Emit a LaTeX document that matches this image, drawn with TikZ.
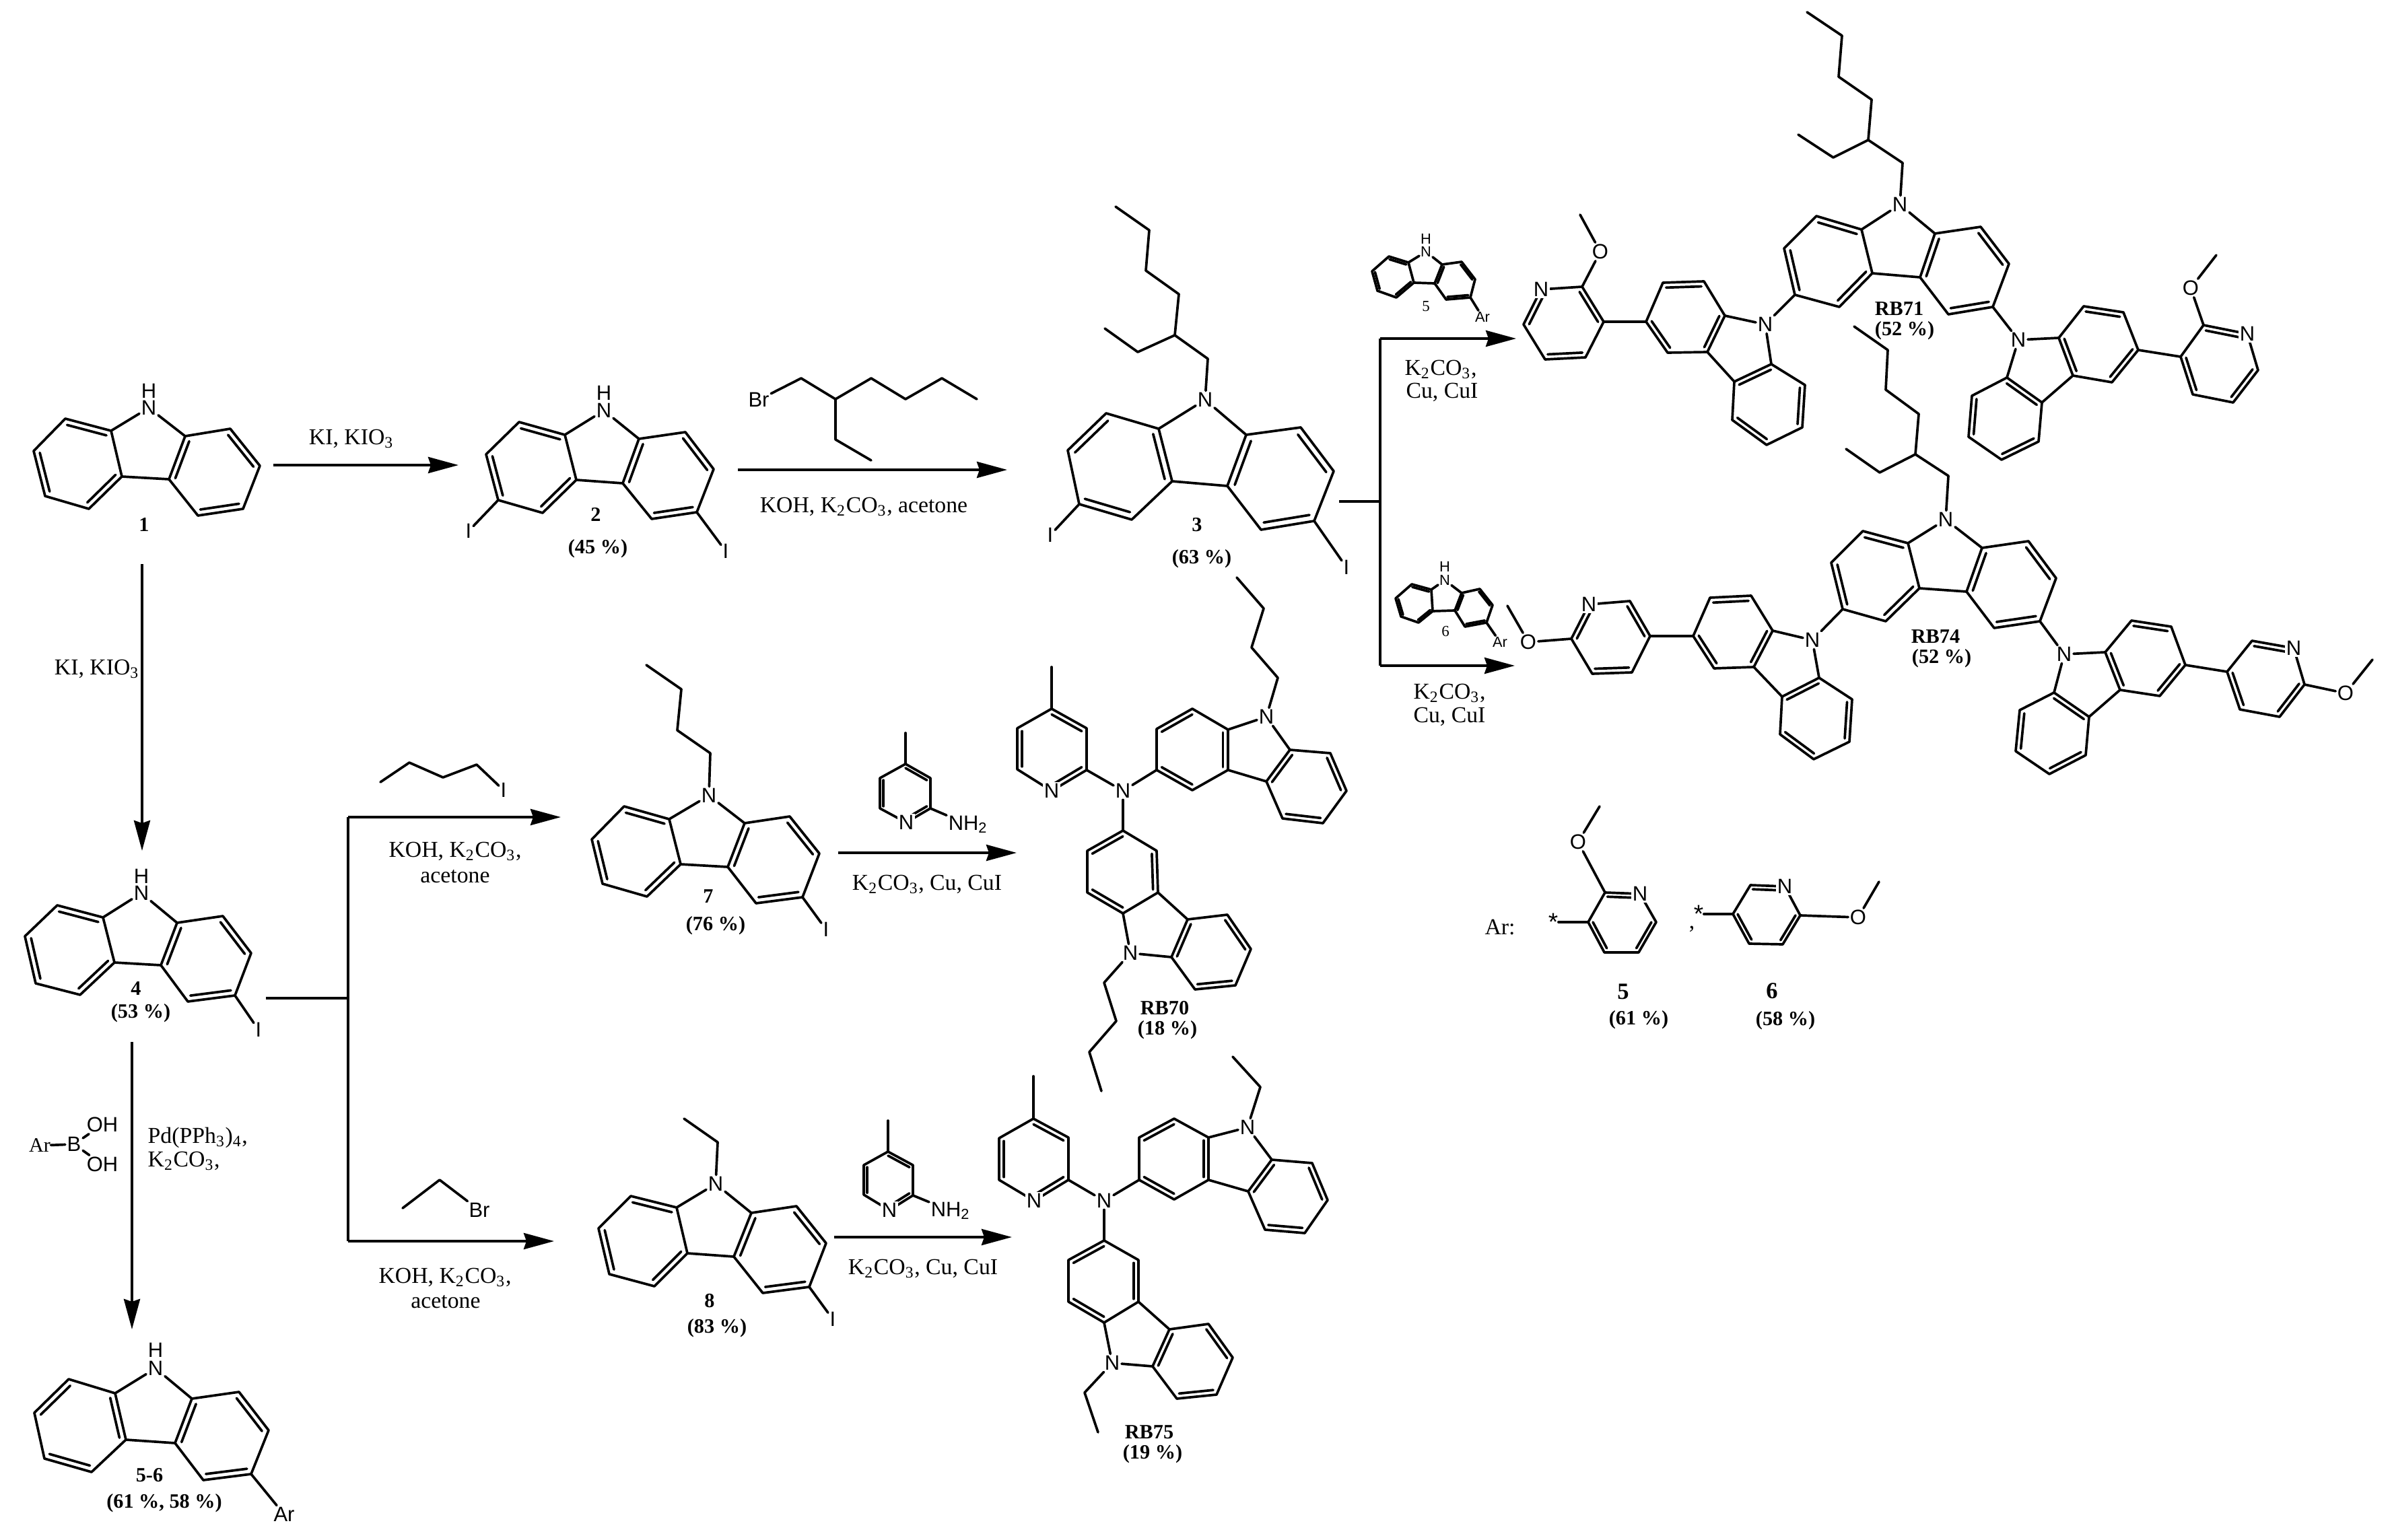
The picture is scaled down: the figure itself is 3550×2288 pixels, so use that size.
\documentclass[tikz,border=0pt]{standalone}
\usepackage{fontspec}
\setmainfont{Liberation Serif}
\newfontfamily\atomfont{Liberation Sans}
\usetikzlibrary{calc,arrows.meta}
\tikzset{
  bond/.style={line width=1.05pt,line join=round,line cap=round,black},
  rxnline/.style={line width=1.1pt,black},
  rxn/.style={rxnline,-{Stealth[length=.45cm,width=.24cm,inset=.04cm]}},
  atom/.style={font=\atomfont\fontsize{8.8pt}{10pt}\selectfont,inner sep=.6pt},
  satom/.style={font=\atomfont\fontsize{6.2pt}{7pt}\selectfont,inner sep=.4pt},
  patom/.style={atom,fill=white},
  txt/.style={font=\fontsize{9.6pt}{11pt}\selectfont,inner sep=0pt},
  lbl/.style={font=\bfseries\fontsize{8.6pt}{10pt}\selectfont,inner sep=0pt},
  big/.style={font=\bfseries\fontsize{9.8pt}{11pt}\selectfont,inner sep=0pt},
  yld/.style={font=\fontsize{8.6pt}{10pt}\selectfont,inner sep=0pt},
  star/.style={font=\atomfont\fontsize{10.5pt}{11pt}\selectfont,inner sep=0pt},
  stxt/.style={font=\fontsize{6.5pt}{7pt}\selectfont,inner sep=0pt},
}
% six-membered ring: name, six points, list of edges that are double
\newcommand\hx[8]{%
  \coordinate (#1-1) at #2; \coordinate (#1-2) at #3; \coordinate (#1-3) at #4;
  \coordinate (#1-4) at #5; \coordinate (#1-5) at #6; \coordinate (#1-6) at #7;
  \coordinate (#1-c) at ($0.16667*(#1-1)+0.16667*(#1-2)+0.16667*(#1-3)+0.16667*(#1-4)+0.16667*(#1-5)+0.16667*(#1-6)$);
  \draw[bond] (#1-1)--(#1-2)--(#1-3)--(#1-4)--(#1-5)--(#1-6)--cycle;
  \foreach \i in {#8} {%
    \pgfmathtruncatemacro\j{mod(\i,6)+1}%
    \draw[bond] ($(#1-c)!.86!(#1-\i)$)--($(#1-c)!.86!(#1-\j)$);
  }%
}
% pyrrole part of a carbazole: left ring, right ring, name of N, position
\newcommand\cz[5][atom]{%
  \node[#1] (#4) at #5 {N};
  \draw[bond] (#2-1)--(#4)--(#3-1);
  \draw[bond] (#2-2)--(#3-2);
}
\newcommand\rxnarrow[3]{%
  \coordinate (#1s) at #2; \coordinate (#1e) at #3;
  \draw[rxn] (#1s)--(#1e);
}
\begin{document}
\begin{tikzpicture}[x=0.01cm,y=-0.01cm]
\useasboundingbox (0,0) rectangle (3550,2288);

% ---------- compound 1
\hx{oneL}{(165,640)}{(181,708)}{(132,756)}{(67,737)}{(50,670)}{(97,622)}{2,4,6}
\hx{oneR}{(275,648)}{(251,712)}{(294,766)}{(361,756)}{(386,692)}{(342,637)}{1,3,5}
\cz{oneL}{oneR}{oneN}{(221,606)}
\node[atom] (oneH) at (221,581) {H};
\node[lbl] (oneLb) at (214,780) {1};

% ---------- compound 2
\hx{twoL}{(839,646)}{(856,713)}{(806,762)}{(740,743)}{(722,675)}{(771,627)}{2,4,6}
\hx{twoR}{(949,652)}{(925,718)}{(968,771)}{(1035,761)}{(1060,697)}{(1018,642)}{1,3,5}
\cz{twoL}{twoR}{twoN}{(897,610)}
\node[atom] (twoH) at (897,584) {H};
\node[atom] (twoIa) at (696,789) {I};
\node[atom] (twoIb) at (1078,819) {I};
\draw[bond] (twoL-4)--(twoIa);
\draw[bond] (twoR-4)--(twoIb);
\node[lbl] (twoLb) at (885,764) {2};
\node[lbl] (twoY) at (888,815) {(45 \%)};

% ---------- 2-ethylhexyl bromide
\node[atom] (brA) at (1127,594) {Br};
\draw[bond] (brA)--(1190,562)--(1241,593)--(1294,562)--(1345,593)--(1399,562)--(1451,593);
\draw[bond] (1241,593)--(1241,653)--(1294,684);

% ---------- compound 3
\hx{thrL}{(1721,637)}{(1741,715)}{(1681,772)}{(1603,749)}{(1586,669)}{(1643,614)}{1,3,5}
\hx{thrR}{(1851,646)}{(1823,722)}{(1873,787)}{(1952,774)}{(1981,700)}{(1932,635)}{1,3,5}
\cz{thrL}{thrR}{thrN}{(1790,594)}
\draw[bond] (thrN)--(1794,533)--(1745,498)--(1690,523)--(1641,488);
\draw[bond] (1745,498)--(1751,437)--(1702,402)--(1707,342)--(1657,307);
\node[atom] (thrIa) at (1560,795) {I};
\node[atom] (thrIb) at (2000,843) {I};
\draw[bond] (thrL-4)--(thrIa);
\draw[bond] (thrR-4)--(thrIb);
\node[lbl] (thrLb) at (1778,780) {3};
\node[lbl] (thrY) at (1785,830) {(63 \%)};

% ---------- compound 4
\hx{fouL}{(153,1363)}{(170,1430)}{(119,1478)}{(53,1461)}{(37,1391)}{(85,1345)}{2,4,6}
\hx{fouR}{(263,1371)}{(239,1434)}{(279,1488)}{(349,1479)}{(373,1416)}{(331,1361)}{1,3,5}
\cz{fouL}{fouR}{fouN}{(210,1327)}
\node[atom] (fouH) at (210,1302) {H};
\node[atom] (fouI) at (384,1530) {I};
\draw[bond] (fouR-4)--(fouI);
\node[lbl] (fouLb) at (202,1469) {4};
\node[lbl] (fouY) at (209,1505) {(53 \%)};

% ---------- compound 5-6
\hx{fsL}{(171,2070)}{(187,2139)}{(136,2187)}{(66,2167)}{(51,2099)}{(102,2049)}{1,3,5}
\hx{fsR}{(285,2078)}{(260,2144)}{(302,2199)}{(373,2190)}{(399,2125)}{(355,2068)}{1,3,5}
\cz{fsL}{fsR}{fsN}{(231,2033)}
\node[atom] (fsH) at (231,2006) {H};
\node[atom] (fsAr) at (422,2250) {Ar};
\draw[bond] (fsR-4)--(fsAr);
\node[lbl] (fsLb) at (222,2192) {5-6};
\node[lbl] (fsY) at (244,2233) {(61 \%, 58 \%)};

% ---------- boronic acid
\node[yld] (baAr) at (59,1702) {Ar};
\node[atom] (baB) at (110,1700) {B};
\node[atom] (baOa) at (152,1671) {OH};
\node[atom] (baOb) at (152,1730) {OH};
\draw[bond] (baAr)--(baB);
\draw[bond] (baB)--(baOa);
\draw[bond] (baB)--(baOb);

% ---------- compound 7
\hx{svnL}{(994,1217)}{(1011,1284)}{(961,1332)}{(895,1313)}{(879,1247)}{(927,1198)}{2,4,6}
\hx{svnR}{(1106,1223)}{(1081,1288)}{(1123,1342)}{(1192,1333)}{(1217,1268)}{(1173,1213)}{1,3,5}
\cz{svnL}{svnR}{svnN}{(1053,1182)}
\draw[bond] (svnN)--(1055,1119)--(1006,1085)--(1012,1024)--(960,988);
\node[atom] (svnI) at (1227,1381) {I};
\draw[bond] (svnR-4)--(svnI);
\node[lbl] (svnLb) at (1052,1332) {7};
\node[lbl] (svnY) at (1063,1375) {(76 \%)};

% ---------- compound 8
\hx{eigL}{(1005,1794)}{(1021,1862)}{(972,1911)}{(905,1893)}{(889,1825)}{(937,1777)}{2,4,6}
\hx{eigR}{(1116,1802)}{(1090,1867)}{(1133,1921)}{(1202,1912)}{(1227,1847)}{(1183,1792)}{1,3,5}
\cz{eigL}{eigR}{eigN}{(1063,1759)}
\draw[bond] (eigN)--(1066,1697)--(1016,1662);
\node[atom] (eigI) at (1237,1960) {I};
\draw[bond] (eigR-4)--(eigI);
\node[lbl] (eigLb) at (1054,1933) {8};
\node[lbl] (eigY) at (1065,1973) {(83 \%)};

% ---------- butyl iodide, ethyl bromide
\node[atom] (buI) at (748,1174) {I};
\draw[bond] (565,1162)--(608,1133)--(658,1155)--(708,1136)--(buI);
\node[atom] (etBr) at (712,1798) {Br};
\draw[bond] (598,1795)--(653,1753)--(etBr);

% ---------- aminopicoline reagents
\hx{qa}{(1382,1201)}{(1346,1222)}{(1307,1201)}{(1307,1156)}{(1345,1135)}{(1382,1156)}{1,3,5}
\node[patom] (qaN) at (qa-2) {N};
\node[atom] (qaNH) at (1438,1225) {NH\textsubscript{2}};
\draw[bond] (qa-1)--(qaNH);
\draw[bond] (qa-5)--(1345,1089);
\hx{qb}{(1356,1776)}{(1321,1798)}{(1283,1775)}{(1283,1731)}{(1319,1711)}{(1356,1731)}{1,3,5}
\node[patom] (qbN) at (qb-2) {N};
\node[atom] (qbNH) at (1412,1799) {NH\textsubscript{2}};
\draw[bond] (qb-1)--(qbNH);
\draw[bond] (qb-5)--(1319,1665);

% ---------- RB70
\hx{sevP}{(1614,1144)}{(1562,1175)}{(1511,1143)}{(1511,1082)}{(1562,1053)}{(1614,1082)}{1,3,5}
\node[patom] (sevPN) at (sevP-2) {N};
\draw[bond] (sevP-5)--(1562,991);
\node[atom] (sevN) at (1668,1175) {N};
\hx{sevAL}{(1824,1084)}{(1824,1144)}{(1771,1174)}{(1718,1144)}{(1718,1083)}{(1771,1053)}{1,3,5}
\hx{sevAR}{(1916,1114)}{(1881,1161)}{(1905,1216)}{(1965,1223)}{(2000,1175)}{(1976,1119)}{1,3,5}
\cz{sevAL}{sevAR}{sevAN}{(1881,1065)}
\draw[bond] (sevAN)--(1898,1007)--(1859,962)--(1877,904)--(1837,858);
\hx{sevBL}{(1668,1357)}{(1720,1326)}{(1718,1264)}{(1668,1234)}{(1615,1264)}{(1615,1326)}{2,4,6}
\hx{sevBR}{(1740,1422)}{(1764,1366)}{(1823,1359)}{(1858,1410)}{(1835,1464)}{(1775,1470)}{1,3,5}
\cz{sevBL}{sevBR}{sevBN}{(1679,1416)}
\draw[bond] (sevBN)--(1640,1460)--(1658,1517)--(1618,1563)--(1636,1621);
\draw[bond] (sevP-1)--(sevN)--(sevAL-4);
\draw[bond] (sevN)--(sevBL-4);
\node[lbl] (sevLb) at (1730,1498) {RB70};
\node[lbl] (sevY) at (1734,1530) {(18 \%)};

% ---------- RB75
\hx{fivP}{(1587,1753)}{(1536,1784)}{(1484,1753)}{(1484,1691)}{(1535,1662)}{(1587,1690)}{1,3,5}
\node[patom] (fivPN) at (fivP-2) {N};
\draw[bond] (fivP-5)--(1535,1599);
\node[atom] (fivN) at (1640,1784) {N};
\hx{fivAL}{(1795,1690)}{(1795,1753)}{(1744,1782)}{(1692,1753)}{(1692,1690)}{(1744,1662)}{1,3,5}
\hx{fivAR}{(1889,1723)}{(1854,1770)}{(1879,1827)}{(1938,1832)}{(1972,1783)}{(1949,1728)}{1,3,5}
\cz{fivAL}{fivAR}{fivAN}{(1853,1675)}
\draw[bond] (fivAN)--(1872,1615)--(1831,1570);
\hx{fivBL}{(1640,1965)}{(1691,1934)}{(1691,1872)}{(1640,1843)}{(1587,1872)}{(1587,1934)}{2,4,6}
\hx{fivBR}{(1712,2030)}{(1737,1975)}{(1795,1967)}{(1831,2017)}{(1807,2072)}{(1748,2078)}{1,3,5}
\cz{fivBL}{fivBR}{fivBN}{(1652,2025)}
\draw[bond] (fivBN)--(1611,2069)--(1631,2128);
\draw[bond] (fivP-1)--(fivN)--(fivAL-4);
\draw[bond] (fivN)--(fivBL-4);
\node[lbl] (fivLb) at (1707,2128) {RB75};
\node[lbl] (fivY) at (1712,2160) {(19 \%)};

% ---------- small carbazole 5
\hx{sfL}{(2092,390)}{(2100,420)}{(2074,442)}{(2046,432)}{(2038,403)}{(2063,381)}{2,4,6}
\hx{sfR}{(2142,393)}{(2131,421)}{(2148,445)}{(2184,442)}{(2191,415)}{(2171,389)}{1,3,5}
\cz[satom]{sfL}{sfR}{sfN}{(2118,374)}
\node[satom] (sfH) at (2118,355) {H};
\node[satom] (sfAr) at (2202,471) {Ar};
\draw[bond] (sfR-4)--(sfAr);
\node[stxt] (sfLb) at (2118,455) {5};

% ---------- small carbazole 6
\hx{ssL}{(2126,876)}{(2128,908)}{(2107,925)}{(2081,916)}{(2073,889)}{(2097,868)}{2,4,6}
\hx{ssR}{(2171,881)}{(2161,907)}{(2176,931)}{(2208,925)}{(2217,899)}{(2198,875)}{1,3,5}
\cz[satom]{ssL}{ssR}{ssN}{(2146,862)}
\node[satom] (ssH) at (2146,842) {H};
\node[satom] (ssAr) at (2228,954) {Ar};
\draw[bond] (ssR-4)--(ssAr);
\node[stxt] (ssLb) at (2147,938) {6};

% ---------- RB71
\hx{oaL}{(2765,341)}{(2781,406)}{(2732,456)}{(2666,438)}{(2650,369)}{(2698,321)}{2,4,6}
\hx{oaR}{(2874,347)}{(2852,412)}{(2894,467)}{(2960,456)}{(2984,392)}{(2942,337)}{1,3,5}
\cz{oaL}{oaR}{oaN}{(2822,304)}
\draw[bond] (oaN)--(2826,242)--(2775,208)--(2723,234)--(2671,200);
\draw[bond] (2775,208)--(2780,148)--(2731,114)--(2736,53)--(2684,18);
\hx{obL}{(2562,469)}{(2536,523)}{(2477,524)}{(2445,478)}{(2470,420)}{(2531,418)}{1,3,5}
\hx{obR}{(2631,541)}{(2576,567)}{(2573,624)}{(2624,661)}{(2677,635)}{(2681,572)}{1,3,5}
\cz{obL}{obR}{obN}{(2622,482)}
\draw[bond] (oaL-4)--(obN);
\hx{ocP}{(2382,478)}{(2350,426)}{(2289,430)}{(2263,482)}{(2295,534)}{(2355,531)}{1,3,5}
\node[patom] (ocPN) at (ocP-3) {N};
\draw[bond] (obL-4)--(ocP-1);
\node[atom] (ocO) at (2377,374) {O};
\draw[bond] (ocP-2)--(ocO)--(2347,319);
\hx{odL}{(3058,502)}{(3079,558)}{(3137,568)}{(3176,520)}{(3154,464)}{(3095,455)}{1,3,5}
\hx{odR}{(2981,561)}{(3033,598)}{(3028,656)}{(2973,683)}{(2924,649)}{(2929,588)}{1,3,5}
\cz{odL}{odR}{odN}{(2998,505)}
\draw[bond] (oaR-4)--(odN);
\hx{oeP}{(3239,530)}{(3273,483)}{(3338,496)}{(3354,550)}{(3317,598)}{(3257,586)}{2,4,6}
\node[patom] (oePN) at (oeP-3) {N};
\draw[bond] (odL-4)--(oeP-1);
\node[atom] (oeO) at (3254,428) {O};
\draw[bond] (oeP-2)--(oeO)--(3292,379);
\node[lbl] (oaLb) at (2821,459) {RB71};
\node[lbl] (oaY) at (2829,491) {(52 \%)};

% ---------- RB74
\hx{taL}{(2834,807)}{(2851,874)}{(2801,923)}{(2737,905)}{(2720,836)}{(2767,789)}{2,4,6}
\hx{taR}{(2944,814)}{(2921,879)}{(2962,933)}{(3030,923)}{(3054,859)}{(3013,804)}{1,3,5}
\cz{taL}{taR}{taN}{(2890,772)}
\draw[bond] (taN)--(2894,707)--(2845,675)--(2792,702)--(2742,667);
\draw[bond] (2845,675)--(2850,615)--(2801,579)--(2804,520)--(2754,485);
\hx{tbL}{(2633,937)}{(2605,991)}{(2546,993)}{(2515,945)}{(2540,888)}{(2601,885)}{1,3,5}
\hx{tbR}{(2702,1007)}{(2647,1035)}{(2644,1091)}{(2694,1128)}{(2747,1102)}{(2751,1039)}{1,3,5}
\cz{tbL}{tbR}{tbN}{(2692,951)}
\draw[bond] (taL-4)--(tbN);
\hx{tcP}{(2451,945)}{(2421,893)}{(2360,898)}{(2334,949)}{(2365,1001)}{(2424,999)}{1,3,5}
\node[patom] (tcPN) at (tcP-3) {N};
\draw[bond] (tbL-4)--(tcP-1);
\node[atom] (tcO) at (2270,954) {O};
\draw[bond] (tcP-4)--(tcO)--(2239,900);
\hx{tdL}{(3127,969)}{(3149,1025)}{(3208,1034)}{(3246,988)}{(3225,931)}{(3166,922)}{1,3,5}
\hx{tdR}{(3051,1029)}{(3103,1065)}{(3098,1122)}{(3044,1150)}{(2994,1116)}{(3000,1055)}{1,3,5}
\cz{tdL}{tdR}{tdN}{(3066,972)}
\draw[bond] (taR-4)--(tdN);
\hx{teP}{(3308,998)}{(3345,952)}{(3407,963)}{(3423,1017)}{(3386,1065)}{(3327,1054)}{2,4,6}
\node[patom] (tePN) at (teP-3) {N};
\draw[bond] (tdL-4)--(teP-1);
\node[atom] (teO) at (3484,1030) {O};
\draw[bond] (teP-4)--(teO)--(3524,980);
\node[lbl] (taLb) at (2875,946) {RB74};
\node[lbl] (taY) at (2884,978) {(52 \%)};

% ---------- Ar: definitions
\node[txt] (arT) at (2228,1378) {Ar:};
\hx{raP}{(2359,1370)}{(2384,1326)}{(2436,1328)}{(2460,1370)}{(2434,1415)}{(2383,1415)}{2,4,6}
\node[patom] (raN) at (raP-3) {N};
\node[star] (raS) at (2307,1370) {*};
\draw[bond] (raS)--(raP-1);
\node[atom] (raO) at (2344,1251) {O};
\draw[bond] (raP-2)--(raO)--(2376,1198);
\node[txt] (comma) at (2513,1380) {,};
\hx{rbP}{(2574,1358)}{(2600,1315)}{(2651,1317)}{(2674,1360)}{(2648,1403)}{(2598,1402)}{2,4,6}
\node[patom] (rbN) at (rbP-3) {N};
\node[star] (rbS) at (2523,1358) {*};
\draw[bond] (rbS)--(rbP-1);
\node[atom] (rbO) at (2760,1363) {O};
\draw[bond] (rbP-4)--(rbO)--(2791,1310);
\node[big] (fiveLb) at (2411,1473) {5};
\node[big] (sixLb) at (2632,1472) {6};
\node[lbl] (fiveY) at (2434,1515) {(61 \%)};
\node[lbl] (sixY) at (2652,1516) {(58 \%)};

% ---------- arrows and reagents
\rxnarrow{aa}{(406,691)}{(681,691)}
\node[txt] (aaT) at (522,652) {KI, KIO\textsubscript{3}};
\rxnarrow{ab}{(211,838)}{(211,1264)}
\node[txt] (abT) at (144,994) {KI, KIO\textsubscript{3}};
\rxnarrow{ac}{(1096,698)}{(1496,698)}
\node[txt] (acT) at (1283,753) {KOH, K\textsubscript{2}CO\textsubscript{3}, acetone};
\rxnarrow{ad}{(196,1548)}{(196,1975)}
\node[txt,anchor=west] (adT1) at (219,1690) {Pd(PPh\textsubscript{3})\textsubscript{4},};
\node[txt,anchor=west] (adT2) at (219,1725) {K\textsubscript{2}CO\textsubscript{3},};

\coordinate (br4a) at (395,1483); \coordinate (br4b) at (517,1483);
\coordinate (br4t) at (517,1214); \coordinate (br4u) at (517,1844);
\draw[rxnline] (br4a)--(br4b);
\draw[rxnline] (br4t)--(br4u);
\rxnarrow{ae}{(br4t)}{(833,1214)}
\rxnarrow{af}{(br4u)}{(823,1844)}
\node[txt] (aeT1) at (676,1265) {KOH, K\textsubscript{2}CO\textsubscript{3},};
\node[txt] (aeT2) at (676,1302) {acetone};
\node[txt] (afT1) at (661,1898) {KOH, K\textsubscript{2}CO\textsubscript{3},};
\node[txt] (afT2) at (662,1934) {acetone};

\rxnarrow{ag}{(1245,1267)}{(1510,1267)}
\node[txt] (agT) at (1377,1314) {K\textsubscript{2}CO\textsubscript{3}, Cu, CuI};
\rxnarrow{ah}{(1239,1838)}{(1503,1838)}
\node[txt] (ahT) at (1371,1885) {K\textsubscript{2}CO\textsubscript{3}, Cu, CuI};

\coordinate (br3a) at (1989,745); \coordinate (br3b) at (2050,745);
\coordinate (br3t) at (2050,503); \coordinate (br3u) at (2050,989);
\draw[rxnline] (br3a)--(br3b);
\draw[rxnline] (br3t)--(br3u);
\rxnarrow{ai}{(br3t)}{(2252,503)}
\rxnarrow{aj}{(br3u)}{(2250,989)}
\node[txt] (aiT1) at (2140,549) {K\textsubscript{2}CO\textsubscript{3},};
\node[txt] (aiT2) at (2142,583) {Cu, CuI};
\node[txt] (ajT1) at (2153,1030) {K\textsubscript{2}CO\textsubscript{3},};
\node[txt] (ajT2) at (2153,1065) {Cu, CuI};
\end{tikzpicture}
\end{document}
